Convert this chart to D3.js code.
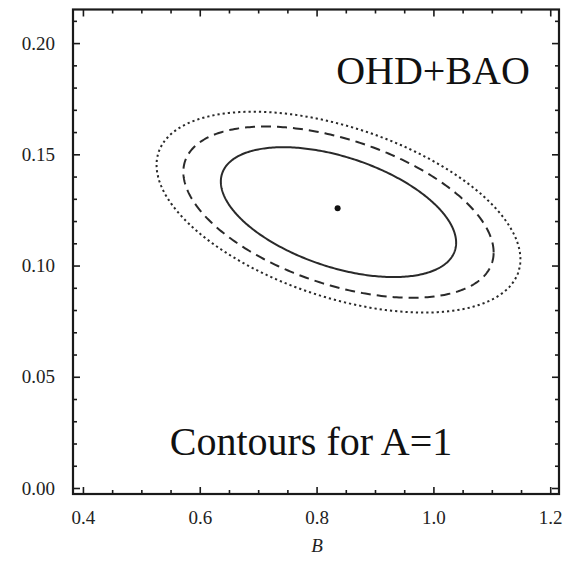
<!DOCTYPE html>
<html><head><meta charset="utf-8">
<script src="https://cdn.jsdelivr.net/npm/d3@7"></script>
<style>body{margin:0;background:#fff}svg{display:block}</style>
</head><body>
<script>
// Axis ranges and ticks
const xDomain = [0.383, 1.215];
const yDomain = [-0.0027, 0.2151];
const xMajorTicks = [0.4, 0.6, 0.8, 1.0, 1.2];
const xTickLabels = ["0.4", "0.6", "0.8", "1.0", "1.2"];
const yMajorTicks = [0.00, 0.05, 0.10, 0.15, 0.20];
const yTickLabels = ["0.00", "0.05", "0.10", "0.15", "0.20"];
const xMinorStep = 0.05;
const yMinorStep = 0.01;

// Best-fit point
const bestFit = [0.836, 0.1257];

// Centre and Gaussian covariance of the likelihood used for the contours
const contourCenter = [0.8375, 0.1240];
const sigmaB = 0.1328;
const sigmaY = 0.01925;
const rho = -0.47;

// Confidence contours: delta chi-square levels and line styles
const contourLevels = [2.30, 4.00, 5.50];
const contourStyles = ["solid", "dashed", "dotted"];

const W = 568, H = 579;
const plotLeft = 73, plotRight = 559, plotTop = 9.5, plotBottom = 494;

const svg = d3.select("body").append("svg").attr("width", W).attr("height", H);

const x = d3.scaleLinear().domain(xDomain).range([plotLeft, plotRight]);
const y = d3.scaleLinear().domain(yDomain).range([plotBottom, plotTop]);

const ink = "#1a1a1a";
const serif = "'Liberation Serif', 'Times New Roman', Times, Tinos, 'DejaVu Serif', 'Noto Serif', FreeSerif, serif";

// Minor tick positions
const xMinor = d3.range(0.4, xDomain[1] + 1e-9, xMinorStep)
  .filter(v => !xMajorTicks.some(m => Math.abs(m - v) < 1e-6));
const yMinor = d3.range(0, yDomain[1] + 1e-9, yMinorStep)
  .filter(v => !yMajorTicks.some(m => Math.abs(m - v) < 1e-6));

function styleAxis(g) {
  g.attr("font-family", serif).attr("font-size", 19);
  g.select(".domain").remove();
  g.selectAll("line").attr("stroke", ink).attr("stroke-width", 1.6);
  g.selectAll("text").attr("fill", "#222");
}

// Bottom axis (labels + inward ticks)
svg.append("g").attr("transform", `translate(0,${plotBottom})`)
  .call(d3.axisBottom(x).tickValues(xMajorTicks).tickFormat((d, i) => xTickLabels[i])
    .tickSizeInner(-7).tickSizeOuter(0).tickPadding(17))
  .call(styleAxis);
svg.append("g").attr("transform", `translate(0,${plotBottom})`)
  .call(d3.axisBottom(x).tickValues(xMinor).tickFormat("").tickSizeInner(-4).tickSizeOuter(0))
  .call(styleAxis);

// Top axis (ticks only)
svg.append("g").attr("transform", `translate(0,${plotTop})`)
  .call(d3.axisTop(x).tickValues(xMajorTicks).tickFormat("").tickSizeInner(-7).tickSizeOuter(0))
  .call(styleAxis);
svg.append("g").attr("transform", `translate(0,${plotTop})`)
  .call(d3.axisTop(x).tickValues(xMinor).tickFormat("").tickSizeInner(-4).tickSizeOuter(0))
  .call(styleAxis);

// Left axis (labels + inward ticks)
svg.append("g").attr("transform", `translate(${plotLeft},0)`)
  .call(d3.axisLeft(y).tickValues(yMajorTicks).tickFormat((d, i) => yTickLabels[i])
    .tickSizeInner(-7).tickSizeOuter(0).tickPadding(18))
  .call(styleAxis);
svg.append("g").attr("transform", `translate(${plotLeft},0)`)
  .call(d3.axisLeft(y).tickValues(yMinor).tickFormat("").tickSizeInner(-4).tickSizeOuter(0))
  .call(styleAxis);

// Right axis (ticks only)
svg.append("g").attr("transform", `translate(${plotRight},0)`)
  .call(d3.axisRight(y).tickValues(yMajorTicks).tickFormat("").tickSizeInner(-7).tickSizeOuter(0))
  .call(styleAxis);
svg.append("g").attr("transform", `translate(${plotRight},0)`)
  .call(d3.axisRight(y).tickValues(yMinor).tickFormat("").tickSizeInner(-4).tickSizeOuter(0))
  .call(styleAxis);

// Frame
svg.append("rect").attr("x", plotLeft).attr("y", plotTop)
  .attr("width", plotRight - plotLeft).attr("height", plotBottom - plotTop)
  .attr("fill", "none").attr("stroke", ink).attr("stroke-width", 2.2);

// Contours: ellipse of constant delta chi-square from the covariance
const angles = d3.range(0, 2 * Math.PI, Math.PI / 180);
function ellipse(k) {
  const s = Math.sqrt(k);
  const c = Math.sqrt(1 - rho * rho);
  return angles.map(t => [
    contourCenter[0] + s * sigmaB * Math.cos(t),
    contourCenter[1] + s * sigmaY * (rho * Math.cos(t) + c * Math.sin(t))
  ]);
}
const line = d3.line().x(d => x(d[0])).y(d => y(d[1])).curve(d3.curveLinearClosed);
const dash = { solid: null, dashed: "10,6", dotted: "2.2,3" };

svg.append("g").selectAll("path")
  .data(contourLevels.map((k, i) => ({ k, style: contourStyles[i] })))
  .join("path")
  .attr("d", d => line(ellipse(d.k)))
  .attr("fill", "none")
  .attr("stroke", "#2a2a2a")
  .attr("stroke-width", 2)
  .attr("stroke-dasharray", d => dash[d.style]);

// Best-fit point
svg.append("circle").attr("cx", x(bestFit[0])).attr("cy", y(bestFit[1]))
  .attr("r", 3).attr("fill", "#111");

// Annotations
svg.append("text").attr("x", 433).attr("y", 84).attr("text-anchor", "middle")
  .attr("font-family", serif).attr("font-size", 40).attr("fill", "#111")
  .text("OHD+BAO");
svg.append("text").attr("x", 311).attr("y", 455).attr("text-anchor", "middle")
  .attr("font-family", serif).attr("font-size", 40).attr("fill", "#111")
  .text("Contours for A=1");

// Axis title
svg.append("text").attr("x", 317).attr("y", 552).attr("text-anchor", "middle")
  .attr("font-family", serif).attr("font-style", "italic").attr("font-size", 19).attr("fill", "#222")
  .text("B");
</script>
</body></html>
